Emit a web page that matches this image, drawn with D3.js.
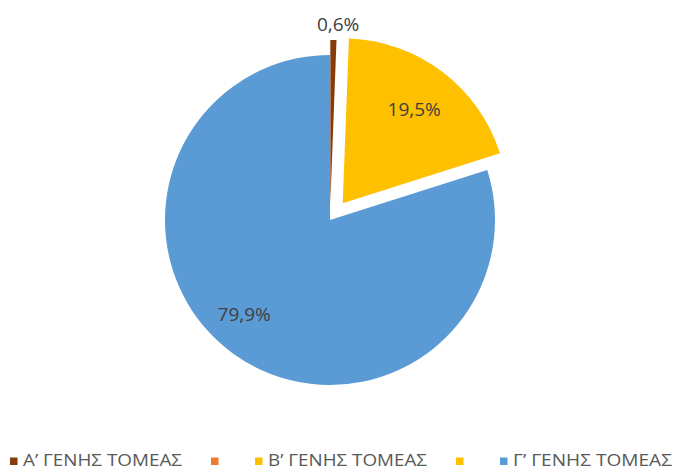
<!DOCTYPE html>
<html>
<head>
<meta charset="utf-8">
<script src="https://cdn.jsdelivr.net/npm/d3@7"></script>
<style>
  html, body { margin: 0; padding: 0; background: #ffffff; }
  svg { display: block; }
</style>
</head>
<body>
<div id="chart"></div>
<script>
// Employment share by economic sector (%)
const categories = ["Α’ ΓΕΝΗΣ ΤΟΜΕΑΣ", "", "Β’ ΓΕΝΗΣ ΤΟΜΕΑΣ", "", "Γ’ ΓΕΝΗΣ ΤΟΜΕΑΣ"];
const values = [0.6, 0, 19.5, 0, 79.9];
const valueLabels = ["0,6%", "", "19,5%", "", "79,9%"];
const colors = ["#843C0C", "#ED7D31", "#FFC000", "#FFC000", "#5B9BD5"];

const width = 673, height = 471;
const cx = 330, cy = 220, radius = 165;

// slice pull-out distance and label placement (radius factor, angular nudge in degrees)
const explode = [15, 0, 21, 0, 0];
const labelPlace = [
  { r: 1.10, turn: 1.4 },
  { r: 0.7, turn: 0 },
  { r: 0.715, turn: 0 },
  { r: 0.7, turn: 0 },
  { r: 0.77, turn: 6.3 }
];

const svg = d3.select("#chart").append("svg")
  .attr("width", width).attr("height", height);

const pie = d3.pie().sort(null).value(d => d.value);
const arcs = pie(values.map((v, i) => ({ value: v, i })));
const arc = d3.arc().innerRadius(0).outerRadius(radius);

const g = svg.append("g").attr("transform", `translate(${cx},${cy})`);

function polar(angle, r) {
  return [Math.sin(angle) * r, -Math.cos(angle) * r];
}

const slices = g.selectAll("g.slice").data(arcs).join("g")
  .attr("class", "slice")
  .attr("transform", d => {
    const mid = (d.startAngle + d.endAngle) / 2;
    const [ox, oy] = polar(mid, explode[d.data.i]);
    return `translate(${ox},${oy})`;
  });

slices.filter(d => d.value > 0).append("path")
  .attr("d", arc)
  .attr("fill", d => colors[d.data.i]);

// value labels
slices.filter(d => d.value > 0).append("text")
  .attr("transform", d => {
    const p = labelPlace[d.data.i];
    const mid = (d.startAngle + d.endAngle) / 2 + p.turn * Math.PI / 180;
    const [x, y] = polar(mid, radius * p.r);
    return `translate(${x},${y})`;
  })
  .attr("text-anchor", "middle")
  .attr("dy", "0.36em")
  .attr("font-family", "'Open Sans', 'Noto Sans', sans-serif")
  .attr("font-size", 19)
  .attr("fill", "#404040")
  .text(d => valueLabels[d.data.i]);

// legend along the bottom
const legend = svg.append("g").attr("class", "legend");
const sq = 7.5, textGap = 13, textW = 159;
let lx = 10;
categories.forEach((name, i) => {
  const item = legend.append("g").attr("transform", `translate(${lx},0)`);
  item.append("rect")
    .attr("x", 0).attr("y", 457.5)
    .attr("width", sq).attr("height", sq)
    .attr("fill", colors[i]);
  if (name) {
    item.append("text")
      .attr("x", textGap).attr("y", 466)
      .attr("font-family", "'Open Sans', 'Noto Sans', sans-serif")
      .attr("font-size", 17)
      .attr("fill", "#595959")
      .attr("textLength", textW)
      .attr("lengthAdjust", "spacingAndGlyphs")
      .text(name);
  }
  lx += textGap + (name ? textW : 0) + (name ? 29 : 31);
});
</script>
</body>
</html>
